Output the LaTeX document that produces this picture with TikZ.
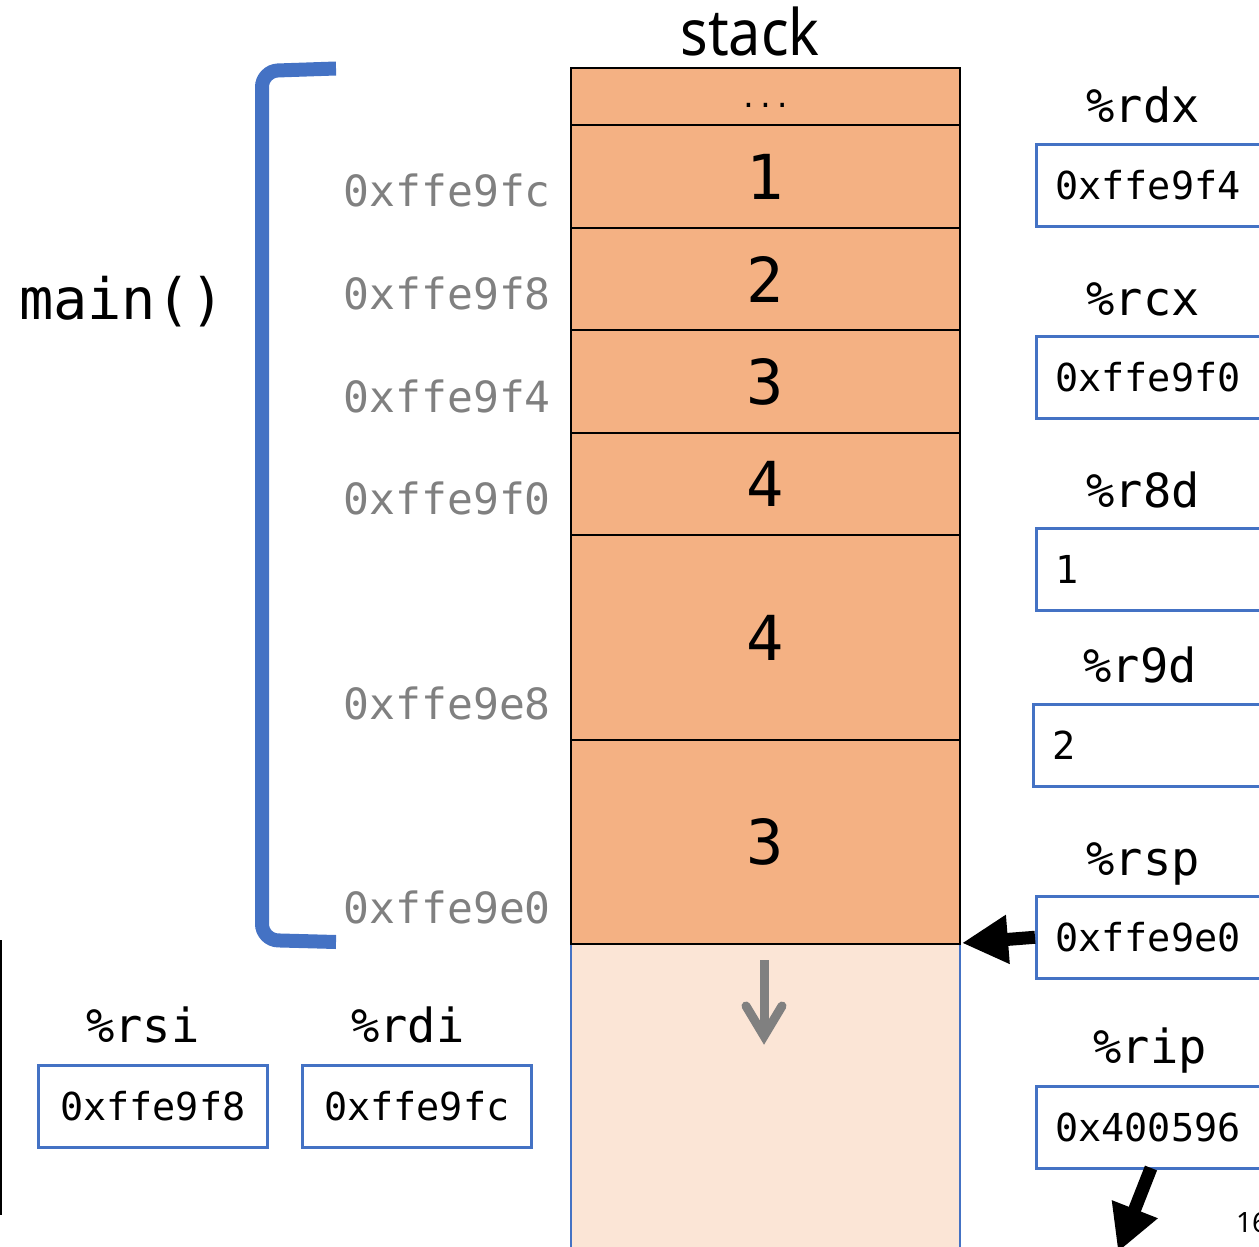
\documentclass[tikz,border=0pt]{standalone}
\usepackage{fontspec}
\setmainfont{Noto Sans}
\newfontfamily\mono{DejaVu Sans Mono}
\usetikzlibrary{arrows.meta}
\definecolor{stackor}{HTML}{F4B183}
\definecolor{stacklt}{HTML}{FBE5D6}
\definecolor{bluec}{HTML}{4472C4}
\definecolor{addrgray}{HTML}{808080}
\begin{document}
\begin{tikzpicture}[x=1pt,y=-1pt,
  cell/.style={draw=black, line width=2pt, fill=stackor, minimum width=389pt, inner sep=0pt,
     font=\mono\fontsize{62}{70}\selectfont},
  addr/.style={font=\mono\fontsize{43}{50}\selectfont, text=addrgray, inner sep=0pt, anchor=east},
  reglabel/.style={font=\mono\fontsize{47}{55}\selectfont, inner sep=0pt, anchor=base},
  regbox/.style={draw=bluec, line width=2.5pt, minimum height=82pt, inner sep=0pt, anchor=north west,
     font=\mono\fontsize{38.5}{45}\selectfont},
  regboxr/.style={regbox, text width=250pt, inner xsep=19pt, align=left},
  regboxl/.style={regbox, minimum width=229pt},
  fat/.style={line width=13pt, -{Triangle[length=46pt,width=46pt]}}
]
\useasboundingbox (0,0) rectangle (1259,1247);

% lower (free) part of the stack
\fill[stacklt] (571,944) rectangle (960,1260);
\draw[bluec, line width=2pt] (571,944) -- (571,1260) (960,944) -- (960,1260);

% stack cells
\node[cell, minimum height=57pt]  (c0) at (765.5,96.5) {};
\node[font=\mono\fontsize{28}{30}\selectfont, inner sep=0pt, anchor=base] (dots) at (765.5,107) {...};
\node[cell, minimum height=103pt] (c1) at (765.5,176.5) {\raisebox{-3pt}{1}};
\node[cell, minimum height=102pt] (c2) at (765.5,279) {\raisebox{-3pt}{2}};
\node[cell, minimum height=103pt] (c3) at (765.5,381.5) {\raisebox{-3pt}{3}};
\node[cell, minimum height=102pt] (c4) at (765.5,484) {\raisebox{-3pt}{4}};
\node[cell, minimum height=205pt] (c5) at (765.5,637.5) {\raisebox{-3pt}{4}};
\node[cell, minimum height=204pt] (c6) at (765.5,842) {\raisebox{-3pt}{3}};
\coordinate (stackbot) at (962,943);

% growth arrow
\draw[addrgray, line width=9pt] (764,960) -- (764,1030);
\draw[addrgray, line width=9pt, line cap=round, line join=miter] (746,1006) -- (764,1036) -- (782,1006);

% title
\node[font=\fontsize{64}{70}\selectfont, inner sep=0pt] (title) at (750,32) {\scalebox{0.9}[1]{stack}};

% addresses
\node[addr] (a1) at (551,190) {0xffe9fc};
\node[addr] (a2) at (551,293) {0xffe9f8};
\node[addr] (a3) at (551,396) {0xffe9f4};
\node[addr] (a4) at (551,498) {0xffe9f0};
\node[addr] (a5) at (551,703) {0xffe9e8};
\node[addr] (a6) at (551,907) {0xffe9e0};

% frame bracket
\draw[bluec, line width=14pt, rounded corners=16pt] (336,68.5) -- (262,71) -- (262,940) -- (336,942);
\node[font=\mono\fontsize{57}{65}\selectfont, inner sep=0pt] (mainf) at (122,302) {main()};

% right registers
\node[reglabel] (lrdx) at (1143,122) {\%rdx};
\node[regboxr] (rdx) at (1035,143) {0xffe9f4};
\node[reglabel] (lrcx) at (1143,315) {\%rcx};
\node[regboxr] (rcx) at (1035,335) {0xffe9f0};
\node[reglabel] (lr8d) at (1143,507) {\%r8d};
\node[regboxr] (r8d) at (1035,527) {1};
\node[reglabel] (lr9d) at (1140,682) {\%r9d};
\node[regboxr] (r9d) at (1032,703) {2};
\node[reglabel] (lrsp) at (1143,875) {\%rsp};
\node[regboxr] (rsp) at (1035,895) {0xffe9e0};
\node[reglabel] (lrip) at (1150,1063) {\%rip};
\node[regboxr] (rip) at (1035,1085) {0x400596};
\coordinate (ripend) at (1118,1252);
\coordinate (ripstart) at (1151,1168);

% arrows
\draw[fat] (rsp.west) -- (stackbot);
\draw[fat] (ripstart) -- (ripend);

% bottom-left registers
\node[reglabel] (lrsi) at (143,1042) {\%rsi};
\node[regboxl] (rsi) at (37,1064) {0xffe9f8};
\node[reglabel] (lrdi) at (408,1042) {\%rdi};
\node[regboxl] (rdi) at (301,1064) {0xffe9fc};

% left edge line
\draw[line width=2pt] (1,940) -- (1,1215);

% page number
\node[font=\fontsize{28}{30}\selectfont, inner sep=0pt, anchor=west] (pnum) at (1236,1222) {16};
\end{tikzpicture}
\end{document}
